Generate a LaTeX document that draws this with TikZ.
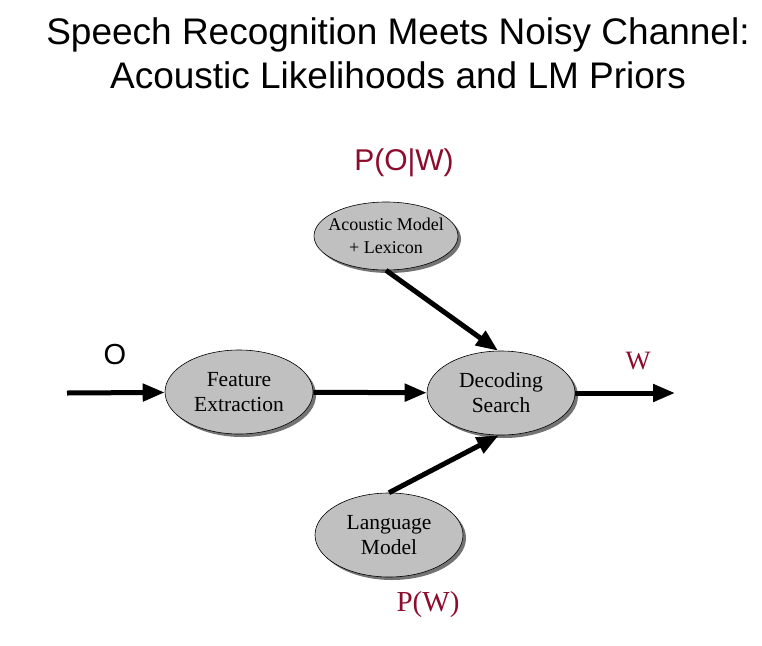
\documentclass[tikz,border=0pt]{standalone}
\usepackage{fontspec}
\setmainfont{Liberation Serif}
\setsansfont{Liberation Sans}
\usepackage{tikz}
\usetikzlibrary{calc,positioning,shapes.geometric,shadows,arrows.meta}
\definecolor{probred}{RGB}{140,12,45}
\definecolor{boxgray}{RGB}{192,192,192}
\tikzset{
  blob/.style={ellipse,draw=black,line width=0.6pt,fill=boxgray,inner sep=0pt,align=center,
    drop shadow={shadow xshift=3pt,shadow yshift=-3pt,fill=black!55,opacity=1}},
  arr/.style={line width=5pt,-{Triangle[length=22pt,width=17pt]}}
}

\begin{document}
\begin{tikzpicture}[x=1pt,y=-1pt]
    \useasboundingbox (0,0) rectangle (762,645);
    % title
    \node[font=\sffamily\fontsize{37}{44}\selectfont,align=center] (title) at (398,53)
        {Speech Recognition Meets Noisy Channel:\\Acoustic Likelihoods and LM Priors};
    % the four boxes
    \node[blob,inner xsep=-10pt,minimum width=144pt,minimum height=68pt,font=\fontsize{18}{23}\selectfont] (am) at (386,236) {Acoustic Model\\+ Lexicon};
    \node[blob,minimum width=148pt,minimum height=84pt,font=\fontsize{21.5}{25}\selectfont] (fe) at (239,392) {Feature\\Extraction};
    \node[blob,minimum width=148pt,minimum height=84pt,font=\fontsize{21.5}{25}\selectfont] (dec) at (501,393) {Decoding\\Search};
    \node[blob,minimum width=148pt,minimum height=84pt,font=\fontsize{21.5}{25}\selectfont] (lm) at (389,535) {Language\\Model};
    \coordinate (in) at (67,393);
    \coordinate (out) at (675,393);
    % arrows
    \draw[arr] (in) -- (fe);
    \draw[arr] (fe) -- (dec);
    \draw[arr] (dec) -- (out);
    \draw[arr] (am.south) -- (dec.94);
    \draw[arr] (lm.north) -- (dec.-93);
    % labels
    \node[font=\sffamily\fontsize{30}{36}\selectfont,text=probred] (pow) at (404,163) {P(O|W)};
    \node[font=\sffamily\fontsize{29}{34}\selectfont] (olab) at (115,355) {O};
    \node[font=\fontsize{26.5}{32}\selectfont,text=probred] (wlab) at (638,361) {W};
    \node[font=\fontsize{29}{34}\selectfont,text=probred] (pw) at (428,605) {P(W)};
\end{tikzpicture}
\end{document}
